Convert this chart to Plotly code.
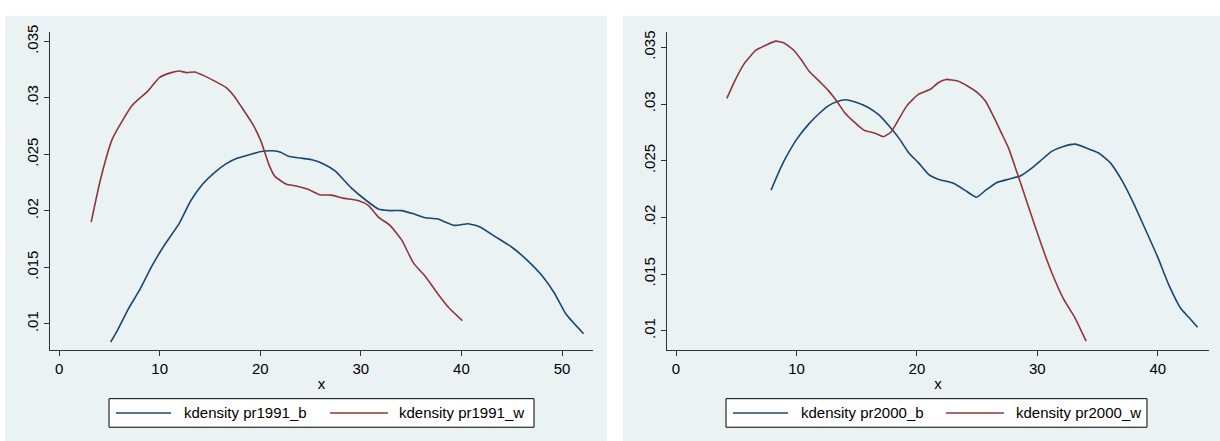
import plotly.graph_objects as go

# Kernel density estimates, 1991
x_1991_b = [5.13, 5.71, 6.88, 8.04, 9.21, 10.37, 11.93, 13.09, 14.26, 15.42, 16.59, 17.75, 18.92,
            20.09, 21.25, 22.03, 22.8, 23.97, 25.14, 26.3, 27.47, 29.02, 30.57, 31.74, 32.9, 34.07,
            35.24, 36.4, 37.57, 39.32, 40.68, 41.84, 43.4, 44.95, 46.5, 48.06, 49.22, 50.39, 52.14]
y_1991_b = [0.0084, 0.00927, 0.01131, 0.01305, 0.01509, 0.01683, 0.01887, 0.0209, 0.02236, 0.02337,
            0.02416, 0.02468, 0.02497, 0.02526, 0.02532, 0.0252, 0.02483, 0.02468, 0.02453, 0.02416,
            0.02352, 0.02206, 0.0209, 0.02017, 0.02003, 0.02003, 0.01974, 0.01939, 0.0193, 0.01872,
            0.01887, 0.01858, 0.0177, 0.01683, 0.01567, 0.01422, 0.01276, 0.01087, 0.00913]

x_1991_w = [3.19, 4.16, 5.32, 7.26, 8.82, 9.98, 11.15, 11.93, 12.7, 13.48, 14.45, 15.23, 16.59,
            17.37, 18.14, 19.31, 20.09, 20.86, 21.44, 22.6, 23.58, 24.75, 25.91, 27.08, 28.24, 29.8,
            30.77, 31.74, 32.9, 34.07, 35.24, 36.4, 37.57, 38.73, 40.09]
y_1991_w = [0.01901, 0.02294, 0.02642, 0.02933, 0.0306, 0.0318, 0.03224, 0.03238, 0.03224, 0.0323,
            0.03195, 0.0316, 0.03093, 0.0302, 0.0292, 0.02759, 0.02613, 0.0241, 0.02308, 0.02236,
            0.02221, 0.02192, 0.02143, 0.0214, 0.02113, 0.0209, 0.02047, 0.01945, 0.01872, 0.01741,
            0.01538, 0.01422, 0.01276, 0.01145, 0.01029]

# Kernel density estimates, 2000
x_2000_b = [7.89, 8.45, 9.1, 10.07, 11.05, 11.86, 12.67, 13.32, 14.13, 14.94, 15.92, 16.89, 17.87,
            18.52, 19.33, 20.14, 20.96, 21.77, 23.07, 24.04, 24.95, 25.67, 26.64, 27.61, 28.59, 29.4,
            30.21, 31.19, 32.16, 33.14, 34.11, 35.09, 36.06, 37.04, 38.01, 38.99, 39.96, 40.94, 41.91,
            42.6, 43.3]
y_2000_b = [0.02241, 0.0238, 0.02524, 0.02697, 0.02827, 0.02914, 0.02986, 0.03021, 0.03038, 0.03015,
            0.02972, 0.029, 0.02784, 0.02697, 0.02568, 0.02481, 0.0238, 0.02337, 0.02299, 0.02236,
            0.02178, 0.02236, 0.02308, 0.02337, 0.02366, 0.02423, 0.02495, 0.02582, 0.02625, 0.02646,
            0.02611, 0.02568, 0.02481, 0.02322, 0.0212, 0.01889, 0.01658, 0.01398, 0.01196, 0.01115,
            0.0103]

x_2000_w = [4.22, 4.87, 5.69, 6.66, 7.47, 8.28, 8.93, 9.75, 10.4, 11.05, 12.02, 12.67, 13.32, 13.97,
            14.78, 15.59, 16.57, 17.22, 17.87, 18.52, 19.17, 20.14, 21.12, 21.77, 22.42, 23.39, 24.2,
            25.02, 25.67, 26.32, 26.97, 27.61, 28.27, 28.91, 29.73, 30.38, 31.19, 32.16, 33.14, 34.05]
y_2000_w = [0.0305, 0.03203, 0.03361, 0.03477, 0.0352, 0.03555, 0.0354, 0.03477, 0.0339, 0.03289,
            0.03188, 0.03116, 0.03029, 0.02928, 0.02842, 0.0277, 0.02741, 0.02712, 0.02755, 0.02871,
            0.02986, 0.03087, 0.0313, 0.03188, 0.03217, 0.03203, 0.03159, 0.03101, 0.03029, 0.029,
            0.02755, 0.02611, 0.02409, 0.02207, 0.01947, 0.01745, 0.01514, 0.01283, 0.0111, 0.00908]

x_ticks = [0, 10, 20, 30, 40, 50]
y_ticks = [0.01, 0.015, 0.02, 0.025, 0.03, 0.035]
y_ticktext = [".01", ".015", ".02", ".025", ".03", ".035"]

names_1991 = ["kdensity pr1991_b", "kdensity pr1991_w"]
names_2000 = ["kdensity pr2000_b", "kdensity pr2000_w"]

NAVY = "#1a476f"
MAROON = "#90353b"
PANEL_BG = "#eaf2f3"
FONT = "Liberation Sans, Arial, sans-serif"
FONT_SIZE = 15

W, H = 1220, 441


def px(x):
    return x / W


def py(y):
    return 1 - y / H


fig = go.Figure()

series = [
    (x_1991_b, y_1991_b, names_1991[0], NAVY, "x", "y"),
    (x_1991_w, y_1991_w, names_1991[1], MAROON, "x", "y"),
    (x_2000_b, y_2000_b, names_2000[0], NAVY, "x2", "y2"),
    (x_2000_w, y_2000_w, names_2000[1], MAROON, "x2", "y2"),
]
for xs, ys, name, color, xa, ya in series:
    fig.add_trace(go.Scatter(
        x=xs, y=ys, name=name, mode="lines", xaxis=xa, yaxis=ya,
        line=dict(color=color, width=1.6, shape="spline", smoothing=0.5),
        showlegend=False,
    ))

shapes = []
annotations = []

# Graph-region backgrounds of the two panels
for x0, x1 in [(5, 607), (623, 1220)]:
    shapes.append(dict(type="rect", xref="paper", yref="paper", layer="below",
                       x0=px(x0), x1=px(x1), y0=py(441), y1=py(9),
                       fillcolor=PANEL_BG, line=dict(width=0)))

# Legends with long line samples
legend_specs = [
    (109, 534, [(116, 171, 182), (330, 388, 397)], names_1991),
    (726, 1147, [(733, 788, 799), (946, 1004, 1014)], names_2000),
]
for bx0, bx1, items, names in legend_specs:
    shapes.append(dict(type="rect", xref="paper", yref="paper", layer="above",
                       x0=px(bx0), x1=px(bx1), y0=py(427), y1=py(398),
                       fillcolor="white", line=dict(color="black", width=1)))
    for (lx0, lx1, tx), name, color in zip(items, names, [NAVY, MAROON]):
        shapes.append(dict(type="line", xref="paper", yref="paper", layer="above",
                           x0=px(lx0), x1=px(lx1), y0=py(412.5), y1=py(412.5),
                           line=dict(color=color, width=1.6)))
        annotations.append(dict(xref="paper", yref="paper", x=px(tx), y=py(412.5),
                                text=name, showarrow=False, xanchor="left", yanchor="middle",
                                font=dict(family=FONT, size=FONT_SIZE, color="black")))

axis_common = dict(
    showline=True, linecolor="#333333", linewidth=1, mirror=False,
    ticks="outside", ticklen=5, tickwidth=1, tickcolor="#333333",
    zeroline=False, tickfont=dict(family=FONT, size=FONT_SIZE, color="black"),
)

xaxis_common = dict(axis_common, showgrid=False, tickvals=x_ticks,
                    title=dict(text="x", font=dict(family=FONT, size=FONT_SIZE, color="black"),
                               standoff=2))
yaxis_common = dict(axis_common, showgrid=True, gridcolor=PANEL_BG, gridwidth=1,
                    tickvals=y_ticks, ticktext=y_ticktext, tickangle=-90)

fig.update_layout(
    width=W, height=H,
    margin=dict(l=0, r=0, t=0, b=0),
    paper_bgcolor="white",
    plot_bgcolor="white",
    font=dict(family=FONT, size=FONT_SIZE, color="black"),
    xaxis=dict(xaxis_common, domain=[px(50), px(593)], range=[-0.9, 53.08], anchor="y"),
    yaxis=dict(yaxis_common, domain=[py(349), py(25)], range=[0.00765, 0.03587], anchor="x"),
    xaxis2=dict(xaxis_common, domain=[px(667), px(1209)], range=[-0.75, 44.25], anchor="y2"),
    yaxis2=dict(yaxis_common, domain=[py(349), py(25)], range=[0.00826, 0.03639], anchor="x2"),
    shapes=shapes,
    annotations=annotations,
    showlegend=False,
)

fig.write_html("out.html")
